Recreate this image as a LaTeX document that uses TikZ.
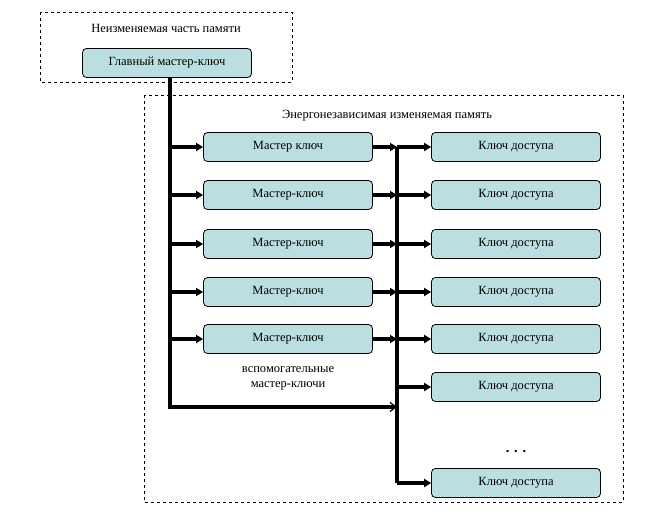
\documentclass[tikz,border=0pt]{standalone}
\usepackage{fontspec}
\setmainfont{Liberation Serif}
\usetikzlibrary{arrows.meta}
\definecolor{boxfill}{HTML}{BBDFE1}
\begin{document}
\begin{tikzpicture}[x=1pt,y=-1pt,
  key/.style={draw=black,fill=boxfill,rounded corners=4pt,minimum width=169pt,minimum height=29pt,inner sep=0pt,line width=0.8pt,font=\fontsize{12.5}{15}\selectfont},
  grp/.style={draw=black,dashed,line width=0.7pt},
  conn/.style={line width=3.2pt},
  arr/.style={conn,-{Triangle[length=7pt,width=8pt]}},
  lbl/.style={font=\fontsize{12.5}{15}\selectfont,align=center}]
\useasboundingbox (0,0) rectangle (648,516);
\draw[grp] (40,12) rectangle (292,82);
\draw[grp] (144,95) rectangle (623,502);
\node[lbl] (t1) at (166,28) {Неизменяемая часть памяти};
\node[lbl] (t2) at (387,116) {Энергонезависимая изменяемая память};
\node[key] (main) at (167,63) {Главный мастер-ключ};
\foreach \i/\y/\t in {1/147/Мастер ключ,2/195/Мастер-ключ,3/244/Мастер-ключ,4/292/Мастер-ключ,5/339/Мастер-ключ}
  \node[key] (m\i) at (288,\y) {\t};
\foreach \i/\y in {1/147,2/195,3/244,4/292,5/339,6/387,7/483}
  \node[key] (k\i) at (516,\y) {Ключ доступа};
\node[lbl] (dots) at (516,452) {\textbf{\Large . . .}};
\node[lbl] (aux) at (288,378) {вспомогательные\\мастер-ключи};
\coordinate (c0) at (170,407);
\coordinate (b0) at (397,147);
\coordinate (b7) at (397,483);
\coordinate (bend) at (397,407);
\draw[conn] (main.south -| c0) -- (c0) -- ([xshift=-4pt]bend);
\draw[-{Straight Barb[length=6pt,width=9pt]},line width=1.2pt] ([xshift=-8pt]bend) -- (bend);
\draw[conn] (b0) -- (b7);
\foreach \i in {1,...,5}{
  \draw[arr] (c0 |- m\i) -- (m\i.west);
  \draw[arr] (m\i.east) -- (b0 |- m\i);
}
\foreach \i in {1,...,7}
  \draw[arr] (b0 |- k\i) -- (k\i.west);
\end{tikzpicture}
\end{document}
